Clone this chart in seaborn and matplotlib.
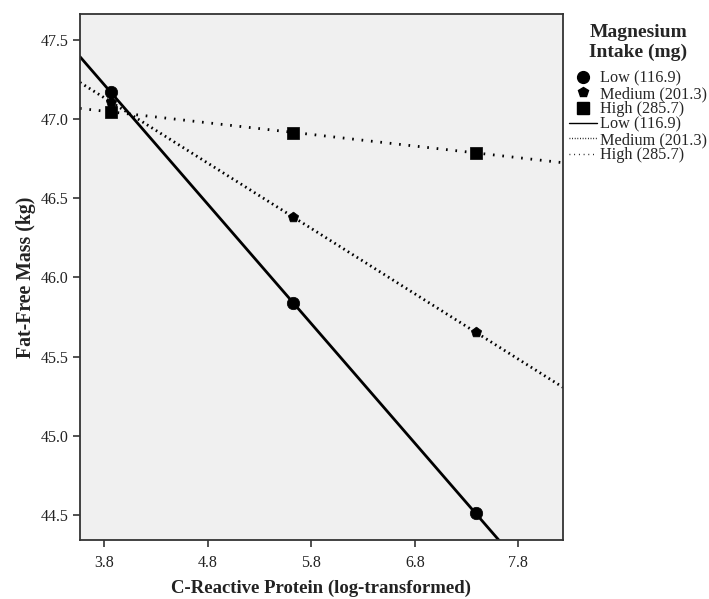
import pandas as pd
import matplotlib
matplotlib.use('Agg')
import matplotlib.pyplot as plt
from matplotlib.lines import Line2D
import seaborn as sns

# 数据
crp = [3.862, 5.626, 7.388]
ffm_low = [47.17, 45.84, 44.51]
ffm_medium = [47.11, 46.38, 45.655]
ffm_high = [47.047, 46.914, 46.788]
groups = ['Low (116.9)', 'Medium (201.3)', 'High (285.7)']
x_ticks = [3.8, 4.8, 5.8, 6.8, 7.8]
y_ticks = [44.5, 45.0, 45.5, 46.0, 46.5, 47.0, 47.5]

df = pd.DataFrame({
    'crp': crp * 3,
    'ffm': ffm_low + ffm_medium + ffm_high,
    'group': [g for g in groups for _ in crp],
})

sns.set_style('ticks')
plt.rcParams['font.family'] = ['Liberation Serif', 'DejaVu Serif']

markers = {'Low (116.9)': 'o', 'Medium (201.3)': 'p', 'High (285.7)': 's'}
marker_sizes = {'Low (116.9)': 80, 'Medium (201.3)': 60, 'High (285.7)': 80}
line_styles = {
    'Low (116.9)': '-',
    'Medium (201.3)': (0, (0.6, 1.3)),
    'High (285.7)': (0, (0.6, 2.8)),
}

fig = plt.figure(figsize=(7.09, 5.99), dpi=100)
ax = fig.add_axes([0.1128, 0.0985, 0.6813, 0.8781])
ax.set_facecolor('#f0f0f0')
ax.set_xlim(3.565, 8.232)
ax.set_ylim(44.342, 47.664)

# 回归线（延伸到整个坐标范围）
for g in groups:
    sub = df[df['group'] == g]
    sns.regplot(data=sub, x='crp', y='ffm', ax=ax, scatter=False, ci=None,
                truncate=False, color='black',
                line_kws={'lw': 2.0, 'ls': line_styles[g], 'zorder': 2})

# 散点
for g in groups:
    sub = df[df['group'] == g]
    sns.scatterplot(data=sub, x='crp', y='ffm', ax=ax, marker=markers[g],
                    s=marker_sizes[g], color='black', edgecolor='black',
                    linewidth=0.5, zorder=3, legend=False)

ax.set_xlim(3.565, 8.232)
ax.set_ylim(44.342, 47.664)
ax.set_xticks(x_ticks)
ax.set_xticklabels([f'{v:.1f}' for v in x_ticks])
ax.set_yticks(y_ticks)
ax.set_yticklabels([f'{v:.1f}' for v in y_ticks])
ax.tick_params(axis='both', labelsize=11.5, length=5, width=1.2, color='#333333',
               labelcolor='#222222', direction='out')
ax.tick_params(axis='x', pad=6)
for sp in ax.spines.values():
    sp.set_linewidth(1.3)
    sp.set_color('#333333')

ax.set_xlabel('C-Reactive Protein (log-transformed)', fontsize=13.5,
              fontweight='bold', labelpad=6, color='#222222')
ax.set_ylabel('Fat-Free Mass (kg)', fontsize=14.2, fontweight='bold',
              labelpad=3, color='#222222')

# 图例
handles = []
for g in groups:
    handles.append(Line2D([], [], ls='none', marker=markers[g], color='black',
                          markersize=8.5 if g != 'Medium (201.3)' else 7.5))
for g in groups:
    handles.append(Line2D([], [], ls=line_styles[g], color='black', lw=1.0))
labels = groups + groups
leg = fig.legend(handles, labels, loc='upper left', bbox_to_anchor=(0.803, 0.960),
                 frameon=False, fontsize=11.7, title='Magnesium\nIntake (mg)',
                 title_fontproperties={'weight': 'bold', 'size': 14},
                 handlelength=1.7, handletextpad=0.2, labelspacing=-0.04,
                 borderaxespad=0, borderpad=0)
leg.get_title().set_multialignment('center')
leg._legend_box.sep = 7

fig.savefig('out.png', dpi=100)
